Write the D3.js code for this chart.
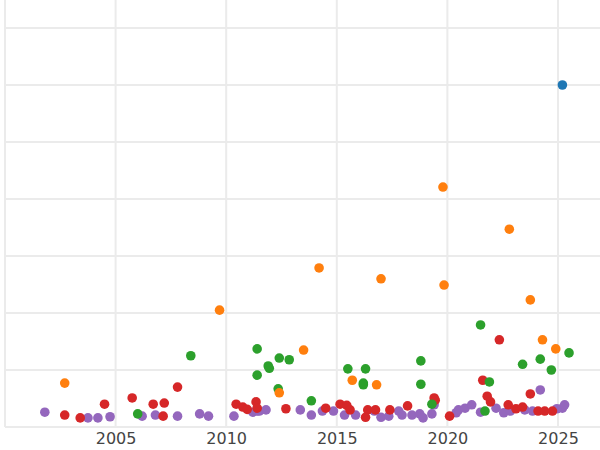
<!DOCTYPE html>
<html>
<head>
<meta charset="utf-8">
<script src="https://cdn.jsdelivr.net/npm/d3@7"></script>
<style>
	body { margin: 0; background: #fff; }
	text { font-family: "DejaVu Sans", sans-serif; }
</style>
</head>
<body>
<svg id="chart" width="600" height="450"></svg>
<script>
// [year, value] per series
const blueSeries = [[2025.2, 6.0]];
const orangeSeries = [[2002.7, 0.77], [2009.7, 2.05], [2012.4, 0.6], [2013.5, 1.35], [2014.2, 2.79],
	[2015.7, 0.82], [2017.0, 2.6], [2016.8, 0.74], [2019.8, 4.21], [2019.85, 2.49], [2022.8, 3.47],
	[2023.75, 2.23], [2024.3, 1.53], [2024.9, 1.37]];
const greenSeries = [[2006.0, 0.23], [2008.4, 1.25], [2011.4, 1.37], [2011.4, 0.91], [2011.9, 1.07],
	[2011.95, 1.03], [2012.4, 1.21], [2012.85, 1.18], [2012.35, 0.67], [2013.85, 0.46], [2015.5, 1.02],
	[2016.3, 1.02], [2016.2, 0.77], [2016.2, 0.74], [2018.8, 1.16], [2018.8, 0.75], [2019.3, 0.4],
	[2021.5, 1.79], [2021.9, 0.79], [2021.7, 0.28], [2023.4, 1.1], [2024.2, 1.19], [2024.7, 1.0], [2025.5, 1.3]];
const redSeries = [[2002.7, 0.21], [2003.4, 0.16], [2004.5, 0.4], [2005.75, 0.51], [2006.7, 0.4],
	[2007.2, 0.42], [2007.15, 0.19], [2007.8, 0.7], [2010.45, 0.4], [2010.75, 0.35], [2010.95, 0.31],
	[2011.35, 0.44], [2011.4, 0.33], [2012.7, 0.32], [2014.5, 0.33], [2015.15, 0.4], [2015.45, 0.38],
	[2015.6, 0.3], [2016.4, 0.3], [2016.3, 0.17], [2016.75, 0.3], [2017.4, 0.3], [2018.2, 0.37],
	[2019.4, 0.51], [2019.45, 0.47], [2020.1, 0.19], [2021.6, 0.82], [2021.8, 0.54], [2021.95, 0.44],
	[2022.35, 1.53], [2022.75, 0.39], [2023.1, 0.32], [2023.4, 0.35], [2023.75, 0.58], [2024.1, 0.28],
	[2024.4, 0.28], [2024.75, 0.28]];
const purpleSeries = [[2001.8, 0.26], [2003.75, 0.16], [2004.2, 0.16], [2004.75, 0.18], [2006.2, 0.19],
	[2006.8, 0.21], [2007.8, 0.19], [2008.8, 0.23], [2009.2, 0.19], [2010.35, 0.19], [2011.2, 0.26],
	[2011.4, 0.28], [2011.5, 0.28], [2011.8, 0.3], [2013.35, 0.3], [2013.85, 0.21], [2014.35, 0.28],
	[2014.85, 0.28], [2015.35, 0.21], [2015.85, 0.21], [2016.7, 0.28], [2017.0, 0.17], [2017.35, 0.19],
	[2017.8, 0.28], [2017.95, 0.21], [2018.4, 0.21], [2018.75, 0.23], [2018.9, 0.16], [2019.3, 0.23],
	[2019.4, 0.39], [2020.4, 0.25], [2020.5, 0.3], [2020.8, 0.33], [2021.1, 0.39], [2021.5, 0.26],
	[2022.2, 0.33], [2022.55, 0.25], [2022.85, 0.28], [2023.5, 0.3], [2024.2, 0.65], [2023.85, 0.28],
	[2024.95, 0.32], [2025.2, 0.33], [2025.3, 0.39]];

const series = [
	{ data: purpleSeries, color: "#9467bd" },
	{ data: redSeries, color: "#d62728" },
	{ data: greenSeries, color: "#2ca02c" },
	{ data: orangeSeries, color: "#ff7f0e" },
	{ data: blueSeries, color: "#1f77b4" }
];
const xTicks = [2005, 2010, 2015, 2020, 2025];

const svg = d3.select("#chart");
const x = d3.scaleLinear().domain([2000, 2026.9]).range([5, 600]);
const y = d3.scaleLinear().domain([0, 7]).range([427, 28]);

// Grid
svg.append("g")
	.selectAll("line.h")
	.data(d3.range(0, 8))
	.join("line")
	.attr("x1", 5).attr("x2", 600)
	.attr("y1", d => y(d)).attr("y2", d => y(d))
	.attr("stroke", "#ebebeb").attr("stroke-width", 2);

svg.append("g")
	.selectAll("line.v")
	.data([2000].concat(xTicks))
	.join("line")
	.attr("x1", d => x(d)).attr("x2", d => x(d))
	.attr("y1", 0).attr("y2", 427)
	.attr("stroke", "#ebebeb").attr("stroke-width", 2);

// X axis labels
const xAxis = svg.append("g")
	.attr("transform", "translate(0,427)")
	.call(d3.axisBottom(x).tickValues(xTicks).tickFormat(d3.format("d")).tickSize(0).tickPadding(6));
xAxis.select(".domain").remove();
xAxis.selectAll("text")
	.attr("font-size", 16)
	.attr("fill", "#444")
	.style("font-family", "DejaVu Sans, sans-serif");

// Points
series.forEach(s => {
	svg.append("g")
		.selectAll("circle")
		.data(s.data)
		.join("circle")
		.attr("cx", d => x(d[0]))
		.attr("cy", d => y(d[1]))
		.attr("r", 4.8)
		.attr("fill", s.color);
});
</script>
</body>
</html>
